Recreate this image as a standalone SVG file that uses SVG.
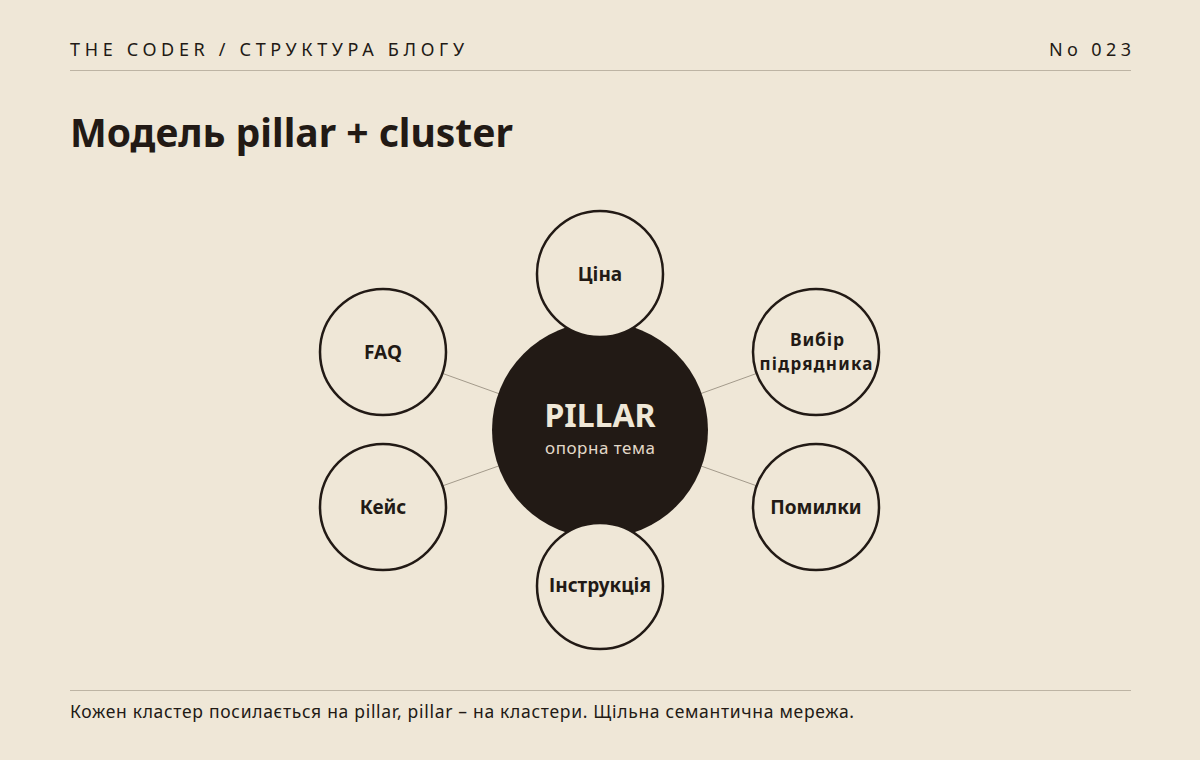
<svg xmlns="http://www.w3.org/2000/svg" width="1200" height="760" viewBox="0 0 1200 760">
<style>
.bg{fill:#efe7d7}
.hdr{font-family:"Noto Sans",sans-serif;font-size:18px;fill:#221a15}
.title{font-family:"Noto Sans",sans-serif;font-size:39px;font-weight:700;fill:#221a15}
.rule{stroke:#bdb4a4;stroke-width:1}
.conn{stroke:#a39a8b;stroke-width:1}
.cl{fill:#efe7d7;stroke:#221a15;stroke-width:2.5}
.cltxt{font-family:"Noto Sans",sans-serif;font-size:19px;font-weight:700;fill:#221a15;text-anchor:middle}
.foot{font-family:"Noto Sans",sans-serif;font-size:17.5px;fill:#221a15}
</style>
<rect class="bg" x="0" y="0" width="1200" height="760"/>
<text class="hdr" x="70" y="56" textLength="394" lengthAdjust="spacing">THE CODER / СТРУКТУРА БЛОГУ</text>
<text class="hdr" x="1049" y="56" textLength="82" lengthAdjust="spacing">No 023</text>
<line class="rule" x1="70" y1="70.5" x2="1131" y2="70.5"/>
<text class="title" x="70" y="147">Модель pillar + cluster</text>
<g id="connectors">
<line class="conn" x1="600" y1="430" x2="383" y2="352"/>
<line class="conn" x1="600" y1="430" x2="383" y2="507"/>
<line class="conn" x1="600" y1="430" x2="816" y2="352"/>
<line class="conn" x1="600" y1="430" x2="816" y2="507"/>
<line class="conn" x1="600" y1="430" x2="600" y2="274"/>
<line class="conn" x1="600" y1="430" x2="600" y2="586"/>
</g>
<g id="pillar">
<circle cx="600" cy="430" r="108" fill="#221a15"/>
<text x="600" y="427" text-anchor="middle" font-family="Noto Sans, sans-serif" font-size="32" font-weight="700" fill="#efe7d7">PILLAR</text>
<text x="545" y="454" textLength="110" lengthAdjust="spacing" font-family="Noto Sans, sans-serif" font-size="17" fill="#e2d9c9">опорна тема</text>
</g>
<g id="c-price"><circle class="cl" cx="600" cy="274" r="63"/><text class="cltxt" x="600" y="281">Ціна</text></g>
<g id="c-contractor"><circle class="cl" cx="816" cy="352" r="63"/><text class="cltxt" x="817" y="346" style="font-size:17.5px" textLength="54" lengthAdjust="spacing">Вибір</text><text class="cltxt" x="816" y="369.5" style="font-size:17px" textLength="113" lengthAdjust="spacing">підрядника</text></g>
<g id="c-mistakes"><circle class="cl" cx="816" cy="507" r="63"/><text class="cltxt" x="816" y="514">Помилки</text></g>
<g id="c-guide"><circle class="cl" cx="600" cy="586" r="63"/><text class="cltxt" x="600" y="592">Інструкція</text></g>
<g id="c-case"><circle class="cl" cx="383" cy="507" r="63"/><text class="cltxt" x="383" y="514">Кейс</text></g>
<g id="c-faq"><circle class="cl" cx="383" cy="352" r="63"/><text class="cltxt" x="383" y="359">FAQ</text></g>
<line class="rule" x1="70" y1="690.5" x2="1131" y2="690.5"/>
<text class="foot" x="70" y="718" textLength="784" lengthAdjust="spacing">Кожен кластер посилається на pillar, pillar – на кластери. Щільна семантична мережа.</text>
</svg>
